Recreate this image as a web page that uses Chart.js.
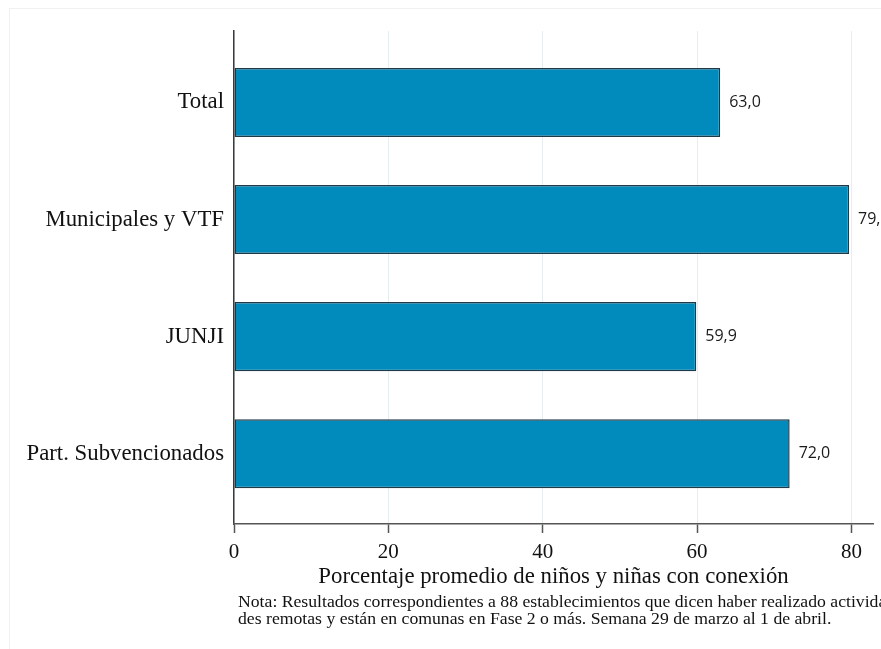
<!DOCTYPE html>
<html>
<head>
<meta charset="utf-8">
<script src="https://cdn.jsdelivr.net/npm/chart.js@4.4.1/dist/chart.umd.min.js"></script>
<style>
    html, body { margin: 0; padding: 0; background: #ffffff; }
    #wrap { position: relative; width: 881px; height: 649px; }
</style>
</head>
<body>
<div id="wrap"><canvas id="connChart"></canvas></div>
<script>
// Data
const categories = ['Total', 'Municipales y VTF', 'JUNJI', 'Part. Subvencionados'];
const connectionPct = [63.0, 79.7, 59.9, 72.0];
const xTickValues = [0, 20, 40, 60, 80];
const xAxisTitle = 'Porcentaje promedio de niños y niñas con conexión';
const noteLines = [
    'Nota: Resultados correspondientes a 88 establecimientos que dicen haber realizado activida',
    'des remotas y están en comunas en Fase 2 o más. Semana 29 de marzo al 1 de abril.'
];

const serif = "'Liberation Serif', 'Times New Roman', serif";
const barColor = '#008bbc';
const barEdge = '#1e3a48';

// value labels to the right of each bar ("63,0")
const valueLabels = {
    id: 'valueLabels',
    afterDatasetsDraw(chart) {
        const ctx = chart.ctx;
        const meta = chart.getDatasetMeta(0);
        ctx.save();
        ctx.font = "16px 'Open Sans', sans-serif";
        ctx.fillStyle = '#1a1a1a';
        ctx.textAlign = 'left';
        ctx.textBaseline = 'middle';
        meta.data.forEach((bar, i) => {
            const txt = connectionPct[i].toFixed(1).replace('.', ',');
            ctx.fillText(txt, bar.x + 9, bar.y);
        });
        ctx.restore();
    }
};

// axis title and note under the x axis
const bottomText = {
    id: 'bottomText',
    beforeDraw(chart) {
        const ctx = chart.ctx;
        ctx.save();
        ctx.strokeStyle = '#f1f1f1';
        ctx.lineWidth = 1;
        ctx.strokeRect(9.5, 8.5, 900, 700);
        ctx.restore();
    },
    afterDraw(chart) {
        const ctx = chart.ctx;
        const area = chart.chartArea;
        ctx.save();
        ctx.fillStyle = '#111111';
        ctx.textBaseline = 'alphabetic';
        ctx.font = '22.8px ' + serif;
        ctx.textAlign = 'center';
        ctx.fillText(xAxisTitle, (area.left + area.right) / 2, 583);
        ctx.font = '17.7px ' + serif;
        ctx.textAlign = 'left';
        ctx.fillText(noteLines[0], 238, 607);
        ctx.fillText(noteLines[1], 238, 623.5);
        ctx.restore();
    }
};

const ctx = document.getElementById('connChart').getContext('2d');
new Chart(ctx, {
    type: 'bar',
    data: {
        datasets: [{
            data: connectionPct.map((v, i) => ({ x: v, y: i })),
            backgroundColor: barColor,
            borderColor: barEdge,
            borderWidth: 1.5,
            borderSkipped: false,
            categoryPercentage: 1,
            barPercentage: 0.59
        }]
    },
    options: {
        indexAxis: 'y',
        responsive: true,
        maintainAspectRatio: false,
        animation: false,
        layout: { padding: { left: 0, right: 8, top: 31, bottom: 0 } },
        plugins: {
            legend: { display: false },
            tooltip: { enabled: false }
        },
        scales: {
            y: {
                type: 'linear',
                reverse: true,
                offset: false,
                min: -0.61,
                max: 3.6,
                afterBuildTicks: (scale) => { scale.ticks = categories.map((c, i) => ({ value: i })); },
                afterFit: (scale) => { scale.width = 234; },
                grid: { display: false, drawTicks: false, offset: false },
                border: { display: true, color: '#3a3a3a', width: 1.5 },
                ticks: {
                    padding: 10,
                    color: '#111111',
                    font: { family: serif, size: 22.8 },
                    callback: (v) => categories[v]
                }
            },
            x: {
                type: 'linear',
                min: 0,
                max: 82.8,
                afterBuildTicks: (scale) => { scale.ticks = xTickValues.map(v => ({ value: v })); },
                afterFit: (scale) => { scale.height = 125; },
                grid: {
                    color: '#e6eef2',
                    lineWidth: 1,
                    drawTicks: true,
                    tickLength: 9,
                    tickColor: '#555555',
                    tickWidth: 1.5
                },
                border: { display: true, color: '#555555', width: 1.5 },
                ticks: {
                    padding: 7,
                    color: '#111111',
                    maxRotation: 0,
                    font: { family: serif, size: 21 }
                }
            }
        }
    },
    plugins: [valueLabels, bottomText]
});
</script>
</body>
</html>
